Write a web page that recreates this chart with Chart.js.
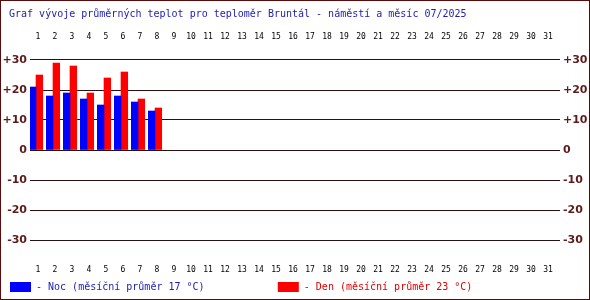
<!DOCTYPE html>
<html>
<head>
<meta charset="utf-8">
<script src="https://cdn.jsdelivr.net/npm/chart.js@4/dist/chart.umd.min.js"></script>
<style>
  html, body { margin: 0; padding: 0; background: #fff; }
  #wrap { position: relative; width: 590px; height: 300px; box-sizing: border-box; border: 1px solid #5a0a0a; }
  canvas { display: block; }
</style>
</head>
<body>
<div id="wrap"><canvas id="chart"></canvas></div>
<script>
// ====== Data ======
const days = [1, 2, 3, 4, 5, 6, 7, 8, 9, 10, 11, 12, 13, 14, 15, 16, 17, 18, 19, 20,
  21, 22, 23, 24, 25, 26, 27, 28, 29, 30, 31];
const nightTemps = [21, 18, 19, 17, 15, 18, 16, 13];
const dayTemps = [25, 29, 28, 19, 24, 26, 17, 14];
const yTickValues = [30, 20, 10, 0, -10, -20, -30];
const yTickLabels = ["+30", "+20", "+10", "0", "-10", "-20", "-30"];

const titleText = " Graf vývoje průměrných teplot pro teploměr Bruntál - náměstí a měsíc 07/2025";
const nightLabel = "- Noc (měsíční průměr 17 °C)";
const dayLabel = "- Den (měsíční průměr 23 °C)";

// ====== Styles ======
const MONO = "'DejaVu Sans Mono', monospace";
const GRID = "#2a1010";
const TICK_RED = "#5c1a1a";
const X_MIN = 0.647, X_MAX = 31.82;

const toPoints = arr => arr.map((v, i) => ({ x: days[i], y: v }));
const setDayTicks = axis => { axis.ticks = days.map(v => ({ value: v })); };
const setTempTicks = axis => { axis.ticks = yTickValues.map(v => ({ value: v })); };
const tempLabel = v => yTickLabels[yTickValues.indexOf(v)];

const dayAxis = (position, padding, height) => ({
  type: "linear",
  position: position,
  offset: false,
  min: X_MIN,
  max: X_MAX,
  afterBuildTicks: setDayTicks,
  afterFit: axis => { axis.height = height; },
  grid: { display: false, drawTicks: false, offset: false },
  border: { display: false },
  ticks: {
    autoSkip: false, maxRotation: 0, padding: padding, labelOffset: 2,
    color: "#000", font: { family: MONO, size: 8 },
    callback: v => String(v)
  }
});

const tempAxis = (position, width, showGrid) => ({
  position: position,
  min: -35,
  max: 35,
  afterBuildTicks: setTempTicks,
  afterFit: axis => { axis.width = width; },
  grid: { display: showGrid, color: GRID, lineWidth: 1, drawTicks: false },
  border: { display: false },
  ticks: {
    padding: 3, color: TICK_RED,
    font: { family: "'DejaVu Sans', sans-serif", size: 11, weight: "bold" },
    callback: tempLabel
  }
});

new Chart(document.getElementById("chart"), {
  type: "bar",
  data: {
    datasets: [
      { label: nightLabel, data: toPoints(nightTemps), backgroundColor: "#0000ff", xAxisID: "x", yAxisID: "y", barThickness: 6.7 },
      { label: dayLabel, data: toPoints(dayTemps), backgroundColor: "#ff0000", xAxisID: "x", yAxisID: "y", barThickness: 6.7 }
    ]
  },
  options: {
    responsive: true,
    maintainAspectRatio: false,
    devicePixelRatio: 1,
    animation: false,
    layout: { padding: { left: 2, right: 0, top: 0, bottom: -3 } },
    scales: {
      x: dayAxis("bottom", 10, 20),
      xTop: dayAxis("top", 3, 14),
      y: tempAxis("left", 27, true),
      yRight: tempAxis("right", 29, false)
    },
    plugins: {
      tooltip: { enabled: false },
      title: {
        display: true, text: titleText, align: "start",
        color: "#1c1cb0", font: { family: MONO, size: 10, weight: "normal" },
        padding: { top: 7, bottom: 11 }
      },
      legend: {
        position: "bottom", align: "start",
        labels: {
          boxWidth: 21, boxHeight: 10, padding: 7,
          font: { family: MONO, size: 10 },
          generateLabels: chart => chart.data.datasets.map((ds, i) => ({
            text: i === 0 ? ds.label + " ".repeat(11) : ds.label,
            fillStyle: ds.backgroundColor,
            strokeStyle: ds.backgroundColor,
            lineWidth: 0,
            fontColor: i === 0 ? "#1c1cb0" : "#e00000",
            hidden: false,
            datasetIndex: i
          }))
        }
      }
    }
  }
});
</script>
</body>
</html>
